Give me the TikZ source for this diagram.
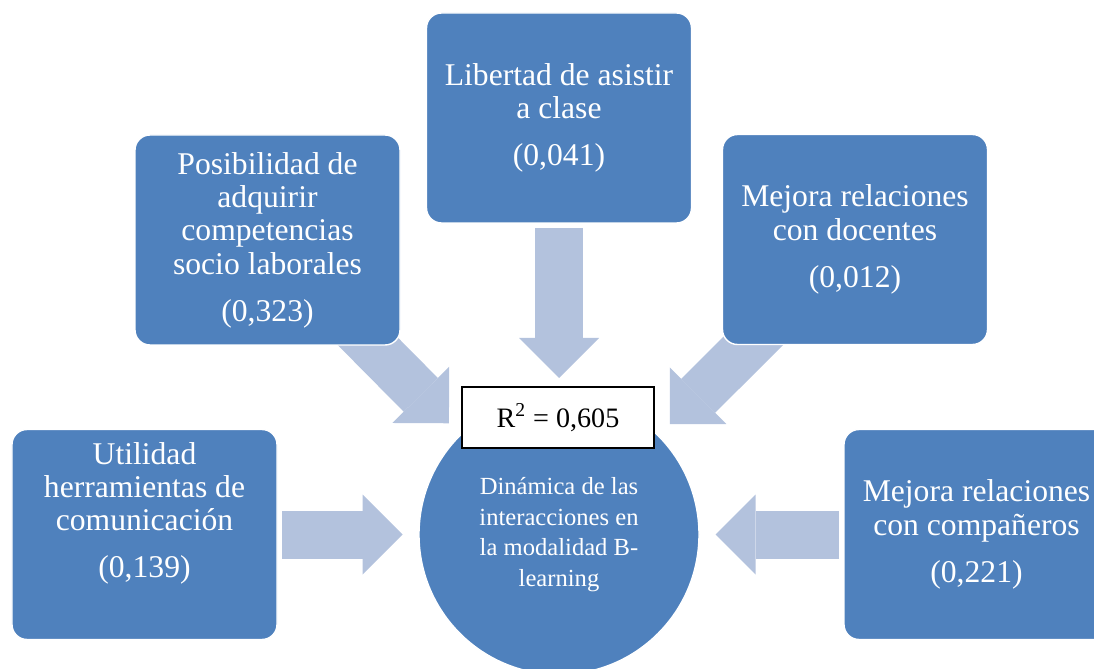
\documentclass[tikz,border=0pt]{standalone}
\usepackage{fontspec}
\setmainfont{Liberation Serif}
\usetikzlibrary{arrows.meta,backgrounds}
\definecolor{cajaazul}{HTML}{4F81BD}
\definecolor{flechaazul}{HTML}{B3C2DD}
\tikzset{
  caja/.style={rectangle, rounded corners=0.3cm, fill=cajaazul, draw=white,
    line width=0.8pt, minimum width=5.3cm, minimum height=4.2cm, text=white,
    align=center, inner sep=2pt, outer sep=0pt,
    font=\fontsize{18}{19}\selectfont},
  flecha/.style={draw=flechaazul, line width=0.96cm,
    -{Triangle[length=0.8cm, width=1.6cm, line width=0pt]},
    shorten <=0.1cm, shorten >=0.33cm},
}
\newcommand{\salto}{\\[7.7pt]}
\begin{document}
\begin{tikzpicture}
  \useasboundingbox (0,0) rectangle (21.88,13.36);
  % cajas de factores
  \node[caja] (utilidad) at (2.89,2.67) {Utilidad\\herramientas de\\comunicación\salto(0,139)\\[9pt]\mbox{}};
  \node[caja] (posibilidad) at (5.35,8.56) {Posibilidad de\\adquirir\\competencias\\socio laborales\salto(0,323)};
  \node[caja] (libertad) at (11.18,11.0) {Libertad de asistir\\a clase\salto(0,041)};
  \node[caja] (docentes) at (17.1,8.57) {Mejora relaciones\\con docentes\salto(0,012)};
  \node[caja] (companeros) at (19.53,2.67) {Mejora relaciones\\con compañeros\salto(0,221)};

  % circulo central
  \node[circle, fill=cajaazul, draw=white, line width=0.8pt, minimum size=5.6cm,
    inner sep=0pt, outer sep=0pt, text=white, align=center,
    font=\fontsize{14}{17.3}\selectfont] (centro) at (11.18,2.67)
    {Dinámica de las\\interacciones en\\la modalidad B-\\learning};
  \node[draw=black, fill=white, line width=1pt, minimum width=3.84cm,
    minimum height=1.22cm, font=\fontsize{16}{19}\selectfont] (rcuadrado)
    at (11.16,5.01) {R\textsuperscript{2} = 0,605};

  % flechas hacia el centro
  \begin{scope}[on background layer]
    \draw[flecha] (utilidad) -- (centro);
    \draw[flecha] (posibilidad.center) -- (centro);
    \draw[flecha] (libertad) -- (centro);
    \draw[flecha] (docentes.center) -- (centro);
    \draw[flecha] (companeros) -- (centro);
  \end{scope}
\end{tikzpicture}
\end{document}
